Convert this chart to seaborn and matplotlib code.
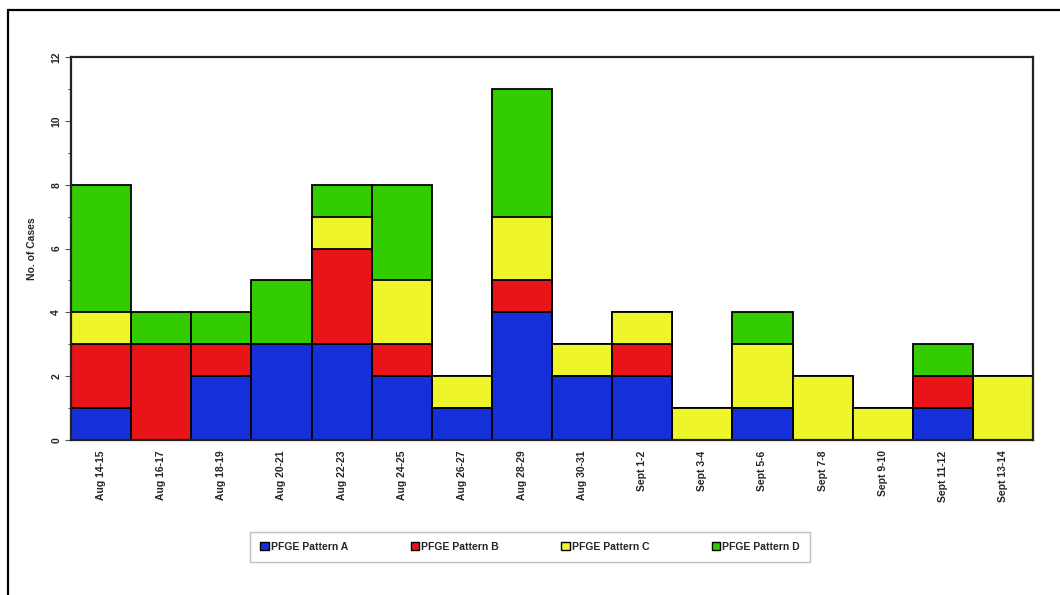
import matplotlib
matplotlib.use("Agg")
import matplotlib.pyplot as plt
from matplotlib.patches import Patch
from matplotlib.lines import Line2D
from matplotlib.ticker import MultipleLocator
import seaborn as sns
import pandas as pd
import numpy as np

categories = ["Aug 14-15", "Aug 16-17", "Aug 18-19", "Aug 20-21", "Aug 22-23",
              "Aug 24-25", "Aug 26-27", "Aug 28-29", "Aug 30-31", "Sept 1-2",
              "Sept 3-4", "Sept 5-6", "Sept 7-8", "Sept 9-10", "Sept 11-12",
              "Sept 13-14"]
pattern_a = [1, 0, 2, 3, 3, 2, 1, 4, 2, 2, 0, 1, 0, 0, 1, 0]
pattern_b = [2, 3, 1, 0, 3, 1, 0, 1, 0, 1, 0, 0, 0, 0, 1, 0]
pattern_c = [1, 0, 0, 0, 1, 2, 1, 2, 1, 1, 1, 2, 2, 1, 0, 2]
pattern_d = [4, 1, 1, 2, 1, 3, 0, 4, 0, 0, 0, 1, 0, 0, 1, 0]
series_names = ["PFGE Pattern A", "PFGE Pattern B", "PFGE Pattern C", "PFGE Pattern D"]
colors = ["#1530d8", "#e81418", "#eef52a", "#33cc00"]

sns.set_style("white")
plt.rcParams["font.family"] = ["Liberation Sans", "DejaVu Sans"]

fig = plt.figure(figsize=(10.6, 5.95), dpi=100)
ax = fig.add_axes([71 / 1060, 1 - 440 / 595, (1033 - 71) / 1060, (440 - 57) / 595])

series = [pattern_a, pattern_b, pattern_c, pattern_d]
cum = np.cumsum(np.array(series), axis=0)
# draw from the tallest cumulative (top layer) to the bottom layer
for i in range(3, -1, -1):
    df = pd.DataFrame({"period": categories, "cases": cum[i]})
    sns.barplot(data=df, x="period", y="cases", order=categories, color=colors[i],
                saturation=1, width=1.0, edgecolor="black", linewidth=1.3, ax=ax)

ax.set_xlim(-0.5, len(categories) - 0.5)
ax.set_ylim(0, 12)
ax.yaxis.set_major_locator(MultipleLocator(2))
ax.yaxis.set_minor_locator(MultipleLocator(1))
ax.tick_params(axis="y", which="major", left=True, length=4, width=0.8, color="#555555",
               labelsize=7.5, labelrotation=90, pad=3)
ax.tick_params(axis="y", which="minor", left=True, length=2.5, width=0.8, color="#555555")
for t in ax.get_yticklabels():
    t.set_va("center")
    t.set_fontweight("bold")
ax.tick_params(axis="x", bottom=False, labelsize=7.5, pad=4)
ax.set_xticks(range(len(categories)))
ax.set_xticklabels(categories, rotation=90, fontweight="bold", va="top", ha="center")
ax.set_xlabel("")
ax.set_ylabel("No. of Cases", fontsize=7.5, fontweight="bold", labelpad=10)
for s in ax.spines.values():
    s.set_visible(True)
    s.set_color("#222222")
    s.set_linewidth(1.6)

handles = [Patch(facecolor=c, edgecolor="black", linewidth=1.0, label=n)
           for c, n in zip(colors, series_names)]
leg = fig.legend(handles=handles, loc="center", bbox_to_anchor=(530 / 1060, 1 - 547 / 595),
                 ncol=4, frameon=True, fancybox=False, handlelength=0.8,
                 handleheight=0.8, handletextpad=0.2, columnspacing=6.0,
                 borderpad=1.0, prop={"weight": "bold", "size": 7.5})
leg.get_frame().set_edgecolor("#b0b0b0")
leg.get_frame().set_linewidth(1.0)

# outer figure frame (top and left visible)
fig.add_artist(Line2D([8 / 1060, 8 / 1060], [0, 1 - 10 / 595], transform=fig.transFigure,
                      color="black", linewidth=1.6))
fig.add_artist(Line2D([8 / 1060, 1], [1 - 10 / 595, 1 - 10 / 595], transform=fig.transFigure,
                      color="black", linewidth=1.6))

fig.savefig("out.png", dpi=100)
